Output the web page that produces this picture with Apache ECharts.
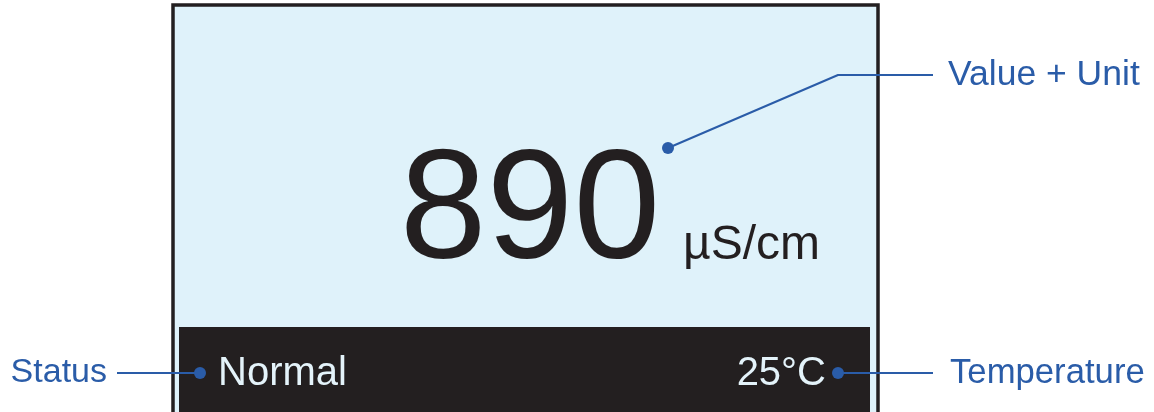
<!DOCTYPE html>
<html>
<head>
<meta charset="utf-8">
<script src="https://cdn.jsdelivr.net/npm/echarts@6/dist/echarts.min.js"></script>
<style>
html, body { margin: 0; padding: 0; background: #fff; }
#main { width: 1154px; height: 412px; }
</style>
</head>
<body>
<div id="main"></div>
<script>
// display panel (diagram units = pixels of the reference)
var panelFrame = [173, 5, 878, 430];
var panelStatusBar = [179, 327, 870, 430];

// what the display shows
var readingValue = ['890'];
var readingUnit = ['µS/cm'];
var statusText = ['Normal'];
var temperatureText = ['25°C'];

// callout captions and their anchor points
var calloutNames = ['Value + Unit', 'Status', 'Temperature'];
var calloutTextAt = [[948, 75], [107, 373], [950, 373]];
var leaderValue = [[668, 148], [838, 75], [933, 75]];
var leaderStatus = [[117, 373], [200, 373]];
var leaderTemp = [[838, 373], [933, 373]];
var leaderDots = [[668, 148], [200, 373], [838, 373]];

var FONT = '"Liberation Sans", Arial, Helvetica, sans-serif';
var BLUE = '#2a5ca8';
var INK = '#231f20';

var chart = echarts.init(document.getElementById('main'));

function rectItem(box, fill, stroke, lw) {
    return {
        type: 'custom',
        silent: true,
        data: [box],
        renderItem: function (params, api) {
            var p0 = api.coord([api.value(0), api.value(1)]);
            var p1 = api.coord([api.value(2), api.value(3)]);
            return {
                type: 'rect',
                shape: { x: p0[0], y: p0[1], width: p1[0] - p0[0], height: p1[1] - p0[1] },
                style: { fill: fill, stroke: stroke, lineWidth: lw }
            };
        },
        z: 1
    };
}

function textItem(points, texts, size, color, align) {
    return {
        type: 'custom',
        silent: true,
        data: points.map(function (p, i) { return [p[0], p[1], i]; }),
        renderItem: function (params, api) {
            var p = api.coord([api.value(0), api.value(1)]);
            return {
                type: 'text',
                x: p[0],
                y: p[1],
                style: {
                    text: texts[api.value(2)],
                    fill: color,
                    fontSize: size,
                    fontFamily: FONT,
                    align: align,
                    verticalAlign: 'middle'
                }
            };
        },
        z: 5
    };
}

function leader(points) {
    return {
        type: 'line',
        data: points,
        symbol: 'none',
        silent: true,
        lineStyle: { color: BLUE, width: 2 },
        z: 6
    };
}

var option = {
    animation: false,
    grid: { left: 0, right: 0, top: 0, bottom: 0 },
    xAxis: { type: 'value', min: 0, max: 1154, show: false },
    yAxis: { type: 'value', min: 0, max: 412, inverse: true, show: false },
    series: [
        rectItem(panelFrame, '#dff2fa', INK, 3.5),
        rectItem(panelStatusBar, INK, null, 0),
        textItem([[530, 214]], readingValue, 156, INK, 'center'),
        textItem([[683, 246]], readingUnit, 48, INK, 'left'),
        textItem([[218, 374]], statusText, 40, '#e4f3fa', 'left'),
        textItem([[826, 374]], temperatureText, 40, '#e4f3fa', 'right'),
        textItem([calloutTextAt[0]], [calloutNames[0]], 35.5, BLUE, 'left'),
        textItem([calloutTextAt[2]], [calloutNames[2]], 34.7, BLUE, 'left'),
        textItem([calloutTextAt[1]], [calloutNames[1]], 34, BLUE, 'right'),
        leader(leaderValue),
        leader(leaderStatus),
        leader(leaderTemp),
        {
            type: 'scatter',
            data: leaderDots,
            symbol: 'circle',
            symbolSize: 12,
            silent: true,
            itemStyle: { color: BLUE, opacity: 1 },
            z: 7
        }
    ]
};

chart.setOption(option);
</script>
</body>
</html>
